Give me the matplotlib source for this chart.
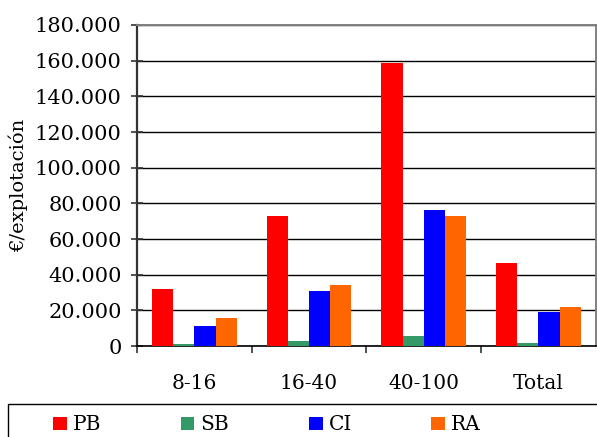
import numpy as np
import matplotlib
matplotlib.use('Agg')
import matplotlib.pyplot as plt
from matplotlib.patches import Rectangle
from matplotlib.ticker import FuncFormatter, MultipleLocator, FixedLocator

# Datos (euros por explotación)
categories = ['8-16', '16-40', '40-100', 'Total']
series_names = ['PB', 'SB', 'CI', 'RA']
pb = [31900, 72800, 158800, 46400]
sb = [900, 2600, 5800, 1900]
ci = [11100, 30800, 76200, 18800]
ra = [15600, 34200, 73000, 22100]
colors = ['#ff0000', '#339966', '#0000ff', '#ff6600']

plt.rcParams['font.family'] = 'DejaVu Serif'

fig = plt.figure(figsize=(5.97, 4.37), dpi=100)
ax = fig.add_axes([0.2295, 0.2082, 0.7685, 0.7346])

x = np.arange(len(categories))
width = 0.185
for i, (name, vals) in enumerate(zip(series_names, [pb, sb, ci, ra])):
    ax.bar(x + (i - 1.5) * width, vals, width, color=colors[i], label=name, zorder=3)

ax.set_xlim(-0.5, len(categories) - 0.5)
ax.set_ylim(0, 180000)
ax.yaxis.set_major_locator(MultipleLocator(20000))
ax.yaxis.set_major_formatter(FuncFormatter(lambda v, p: f'{int(v):,}'.replace(',', '.')))
ax.grid(axis='y', color='black', linewidth=1.0, zorder=0)

ax.set_xticks(x)
ax.set_xticklabels(categories)
ax.xaxis.set_minor_locator(FixedLocator(np.arange(len(categories)) - 0.5))
ax.tick_params(axis='x', which='major', length=0, pad=20, labelsize=14.5)
ax.tick_params(axis='x', which='minor', length=5, width=1.2, direction='out', color='#333333')
ax.tick_params(axis='y', length=8, width=1.2, direction='inout', pad=7, labelsize=15, color='#333333')

ax.set_ylabel('€/explotación', fontsize=14)
ax.yaxis.set_label_coords(-0.237, 0.5)

ax.spines['left'].set_color('#333333')
ax.spines['left'].set_linewidth(1.6)
ax.spines['bottom'].set_color('black')
ax.spines['bottom'].set_linewidth(1.2)
for s in ['top', 'right']:
    ax.spines[s].set_color('#808080')
    ax.spines[s].set_linewidth(1.4)

# caja de la leyenda (cortada por abajo y a la derecha)
fig.patches.append(Rectangle((8 / 597, -0.05), 1.0, 1 - 404 / 437 + 0.05,
                             transform=fig.transFigure, fill=False,
                             edgecolor='black', linewidth=1.0))
fig.legend(loc='center left', bbox_to_anchor=(53 / 597, 1 - 425 / 437), ncol=4,
           frameon=False, fontsize=14.5, handlelength=0.68, handleheight=0.68,
           handletextpad=0.3, columnspacing=3.95, borderpad=0, borderaxespad=0)

fig.savefig('out.png', dpi=100)
